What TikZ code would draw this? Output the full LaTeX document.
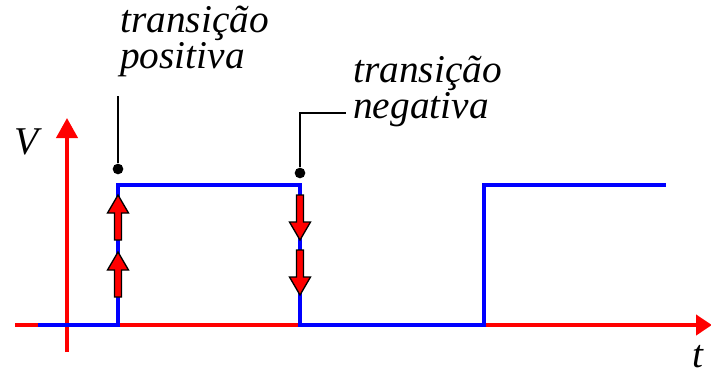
\documentclass[tikz,border=0pt]{standalone}
\usepackage{fontspec}
\setmainfont{Liberation Serif}
\usetikzlibrary{arrows.meta}

\tikzset{
  lbl/.style={font=\fontsize{29.5}{24.75}\selectfont\itshape, inner sep=0pt, align=left},
  axis/.style={red, line width=3pt},
  signal/.style={blue, line width=3pt},
  leader/.style={black, line width=1.2pt},
  dotnode/.style={circle, fill=black, inner sep=0pt, minimum size=8pt},
  edgearrow/.pic={\draw[fill=red, line width=1pt] (-3.5,0) -- (3.5,0) -- (3.5,27) -- (10.5,27) -- (0,45) -- (-10.5,27) -- (-3.5,27) -- cycle;}
}

\begin{document}
\begin{tikzpicture}[x=0.75pt, y=-0.75pt]
    \useasboundingbox (0,0) rectangle (711,375);

    % axes
    \draw[axis, -{Triangle[length=15pt, width=15.75pt]}] (67,352) -- (67,118);
    \draw[axis, -{Triangle[length=12pt, width=15pt]}] (15,325) -- (712,325);
    \node[lbl] (vlab) at (27,142) {V};
    \node[lbl] (tlab) at (698,357) {t};

    % square wave
    \draw[signal] (38,325) -- (118,325) -- (118,185) -- (300,185) -- (300,325)
        -- (484,325) -- (484,185) -- (666,185);

    % transition arrows
    \pic[rotate=180] at (118,240) {edgearrow};
    \pic[rotate=180] at (118,297) {edgearrow};
    \pic at (300,195) {edgearrow};
    \pic at (300,250) {edgearrow};

    % labels (base = last line)
    \node[lbl, anchor=base west] (pos) at (120,68) {transição\\positiva};
    \node[lbl, anchor=base west] (neg) at (353,118) {transição\\negativa};

    \node[dotnode] (d1) at (118,169) {};
    \node[dotnode] (d2) at (300,173) {};
    \coordinate (e1) at (118,96);
    \coordinate (e2) at (346,113);
    \draw[leader] (d1) -- (e1);
    \draw[leader] (d2) |- (e2);
\end{tikzpicture}
\end{document}
